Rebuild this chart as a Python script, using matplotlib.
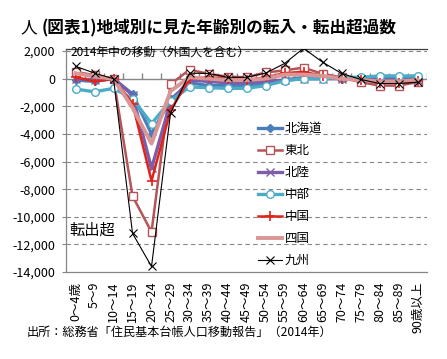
import matplotlib
matplotlib.use("Agg")
import matplotlib.pyplot as plt
from matplotlib.ticker import FuncFormatter
import numpy as np

plt.rcParams['font.family'] = ['Noto Sans CJK JP', 'DejaVu Sans']

# age groups (x categories)
ages = ["0～4歳", "5～9", "10～14", "15～19", "20～24", "25～29", "30～34",
        "35～39", "40～44", "45～49", "50～54", "55～59", "60～64", "65～69",
        "70～74", "75～79", "80～84", "85～89", "90歳以上"]

# net migration by region (persons)
hokkaido = [-100, -200, 0, -1100, -4000, -1500, -300, -500, -500, -500,
            -400, -100, 100, 100, 0, 0, 50, 50, 100]
tohoku = [500, 250, 0, -8500, -11100, -400, 650, 350, 150, 100,
          450, 600, 800, 350, 100, -250, -500, -500, -250]
hokuriku = [0, -100, 0, -1200, -6500, -1700, -100, -200, -300, -300,
            -200, -100, 0, 0, 0, 0, -100, -100, -100]
chubu = [-750, -950, -700, -1450, -3250, -1600, -600, -650, -700, -700,
         -500, -150, 0, 0, 100, 100, 200, 200, 200]
chugoku = [100, -200, 0, -1800, -7400, -2300, 0, 100, 0, -100,
           100, 400, 500, 200, 0, -100, -300, -300, -200]
shikoku = [400, 150, 0, -2100, -4700, -900, 100, 0, -100, -100,
           0, 300, 300, 200, 0, -100, -200, -200, -100]
kyushu = [900, 400, 0, -11200, -13600, -2500, 400, 380, 100, 100,
          400, 1100, 2200, 1200, 380, -50, -350, -350, -250]

fig = plt.figure(figsize=(4.47, 3.59), dpi=100)
ax = fig.add_axes([0.1477, 0.2423, 0.8076, 0.6212])

x = np.arange(len(ages))
gray = "#868686"

# grid and zero axis
for v in range(-12000, 2001, 2000):
    if v != 0:
        ax.axhline(v, color=gray, lw=0.8, ls=(0, (4, 3)), zorder=1)
ax.axhline(0, color=gray, lw=1.0, zorder=1)
ax.vlines(np.arange(-0.5, len(ages)), 0, 380, color=gray, lw=1.0, zorder=1)

ax.plot(x, hokkaido, color="#4A7EBB", lw=2.4, marker="D", ms=4.5,
        label="北海道", zorder=3)
ax.plot(x, tohoku, color="#B65458", lw=1.8, marker="s", ms=6,
        mfc="white", mec="#B65458", mew=1.0, label="東北", zorder=3)
ax.plot(x, hokuriku, color="#7B5EA7", lw=2.4, marker="x", ms=6,
        mew=1.0, label="北陸", zorder=3)
ax.plot(x, chubu, color="#4BACC6", lw=2.4, marker="o", ms=5.5,
        mfc="white", mec="#4BACC6", mew=1.0, label="中部", zorder=3)
ax.plot(x, chugoku, color="#E2231A", lw=1.8, marker="+", ms=7,
        mew=1.2, label="中国", zorder=3)
ax.plot(x, shikoku, color="#D99694", lw=2.8, label="四国", zorder=3)
ax.plot(x, kyushu, color="black", lw=0.8, marker="x", ms=6,
        mew=0.8, label="九州", zorder=4)

ax.set_xlim(-0.5, len(ages) - 0.5)
ax.set_ylim(-14000, 2150)
ax.set_yticks(range(-14000, 2001, 2000))
ax.yaxis.set_major_formatter(FuncFormatter(lambda v, p: f"{v:,.0f}"))
ax.tick_params(axis="y", length=3, width=0.8, color=gray, pad=5, labelsize=9)
ax.set_xticks(x)
ax.set_xticklabels(ages, rotation=90, fontsize=9)
ax.tick_params(axis="x", length=0, pad=7)

for s in ["left", "bottom", "top"]:
    ax.spines[s].set_color(gray)
    ax.spines[s].set_linewidth(0.9)
ax.spines["right"].set_visible(False)
ax.spines["top"].set_color("#404040")

ax.text(0.012, 0.985, "2014年中の移動（外国人を含む）", transform=ax.transAxes,
        fontsize=8.5, va="center", ha="left")
ax.text(0.01, 0.19, "転出超", transform=ax.transAxes, fontsize=11,
        va="center", ha="left")

ax.legend(loc="upper left", bbox_to_anchor=(0.515, 0.70), frameon=False,
          fontsize=9, handlelength=1.9, handletextpad=0.2, labelspacing=0.72,
          borderpad=0)

fig.text(20 / 447, 1 - 28 / 359, "人", fontsize=12, va="center", ha="left")
fig.text(42 / 447, 1 - 28 / 359, "(図表1)地域別に見た年齢別の転入・転出超過数",
         fontsize=12, fontweight="bold", va="center", ha="left")
fig.text(27 / 447, 1 - 332 / 359, "出所：総務省「住民基本台帳人口移動報告」（2014年）",
         fontsize=8.7, va="center", ha="left")

fig.savefig("out.png", dpi=100)
